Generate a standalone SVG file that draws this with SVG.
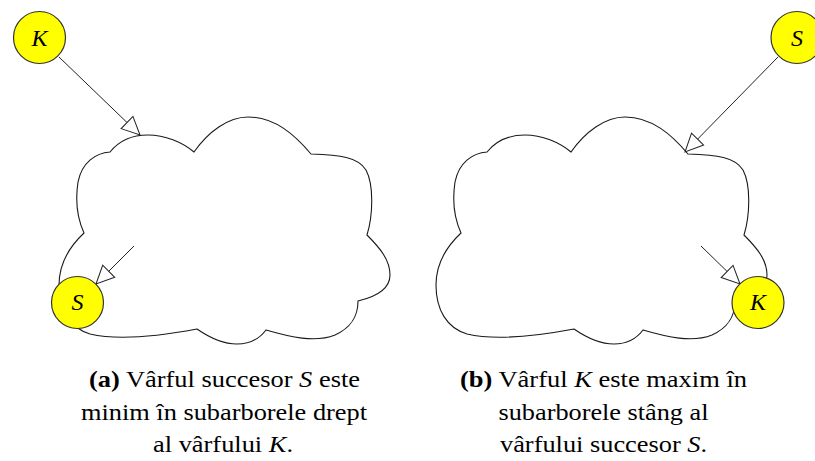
<svg xmlns="http://www.w3.org/2000/svg" width="815" height="461" viewBox="0 0 815 461">
<defs>
<style>
.cloud{fill:#ffffff;stroke:#1a1a1a;stroke-width:1.1}
.node circle{fill:#ffff00;stroke:#333333;stroke-width:1.2}
.node text{font-family:"Liberation Serif",serif;font-style:italic;font-size:24px;text-anchor:middle;fill:#000}
.edge{stroke:#222222;stroke-width:1;fill:none;marker-end:url(#arr)}
.cap{font-family:"Liberation Serif",serif;font-size:23px;text-anchor:middle;fill:#000}
.cap .b{font-weight:bold}
.cap .i{font-style:italic}
</style>
<marker id="arr" markerUnits="userSpaceOnUse" viewBox="-1 -10 21 20" markerWidth="21" markerHeight="20" refX="18" refY="0" orient="auto">
<path d="M0,-8.5 L18,0 L0,8.5 Z" fill="#ffffff" stroke="#222222" stroke-width="1"/>
</marker>
<path id="cloudshape" d="M84,233 C68,248 59,265 59,285 C59,310 70,328 90,334 C120,341 160,336 197,329 C210,338 222,344 237,344 C250,344 260,338 266,330 C290,337 315,343 335,335 C350,328 358,318 358,301 C375,297 390,290 390,275 C390,260 380,248 367,235 C373,215 374,185 366,170 C358,157 340,155 311,154 C295,135 275,117 248,117 C228,117 208,132 194,152 C182,142 165,135 148,135 C130,135 118,142 110,152 C96,153 82,162 78,182 C75,202 78,220 84,233 Z"/>
</defs>
<rect width="815" height="461" fill="#ffffff"/>
<g id="clouds">
<use href="#cloudshape" class="cloud"/>
<use href="#cloudshape" class="cloud" transform="translate(377,0)"/>
</g>
<g id="connectors">
<line class="edge" x1="59" y1="57" x2="140" y2="135"/>
<line class="edge" x1="134" y1="246" x2="96" y2="284"/>
<line class="edge" x1="778" y1="57" x2="685" y2="152"/>
<line class="edge" x1="701" y1="246" x2="740" y2="284"/>
</g>
<g id="nodeK1" class="node"><circle cx="39.5" cy="37.5" r="26"/><text x="39.5" y="45.5">K</text></g>
<g id="nodeS1" class="node"><circle cx="77.5" cy="302.5" r="26"/><text x="77.5" y="310">S</text></g>
<g id="nodeS2" class="node"><circle cx="797" cy="37.5" r="26"/><text x="797" y="45.5">S</text></g>
<g id="nodeK2" class="node"><circle cx="758" cy="302.5" r="26"/><text x="758" y="310">K</text></g>
<g id="caption-a" class="cap">
<text x="224.5" y="387" textLength="271" lengthAdjust="spacingAndGlyphs"><tspan class="b">(a)</tspan> Vârful succesor <tspan class="i">S</tspan> este</text>
<text x="224" y="420" textLength="286" lengthAdjust="spacingAndGlyphs">minim în subarborele drept</text>
<text x="223" y="452" textLength="140" lengthAdjust="spacingAndGlyphs">al vârfului <tspan class="i">K</tspan>.</text>
</g>
<g id="caption-b" class="cap">
<text x="603.5" y="387" textLength="287" lengthAdjust="spacingAndGlyphs"><tspan class="b">(b)</tspan> Vârful <tspan class="i">K</tspan> este maxim în</text>
<text x="603.5" y="420" textLength="210" lengthAdjust="spacingAndGlyphs">subarborele stâng al</text>
<text x="603.5" y="452" textLength="207" lengthAdjust="spacingAndGlyphs">vârfului succesor <tspan class="i">S</tspan>.</text>
</g>
</svg>
